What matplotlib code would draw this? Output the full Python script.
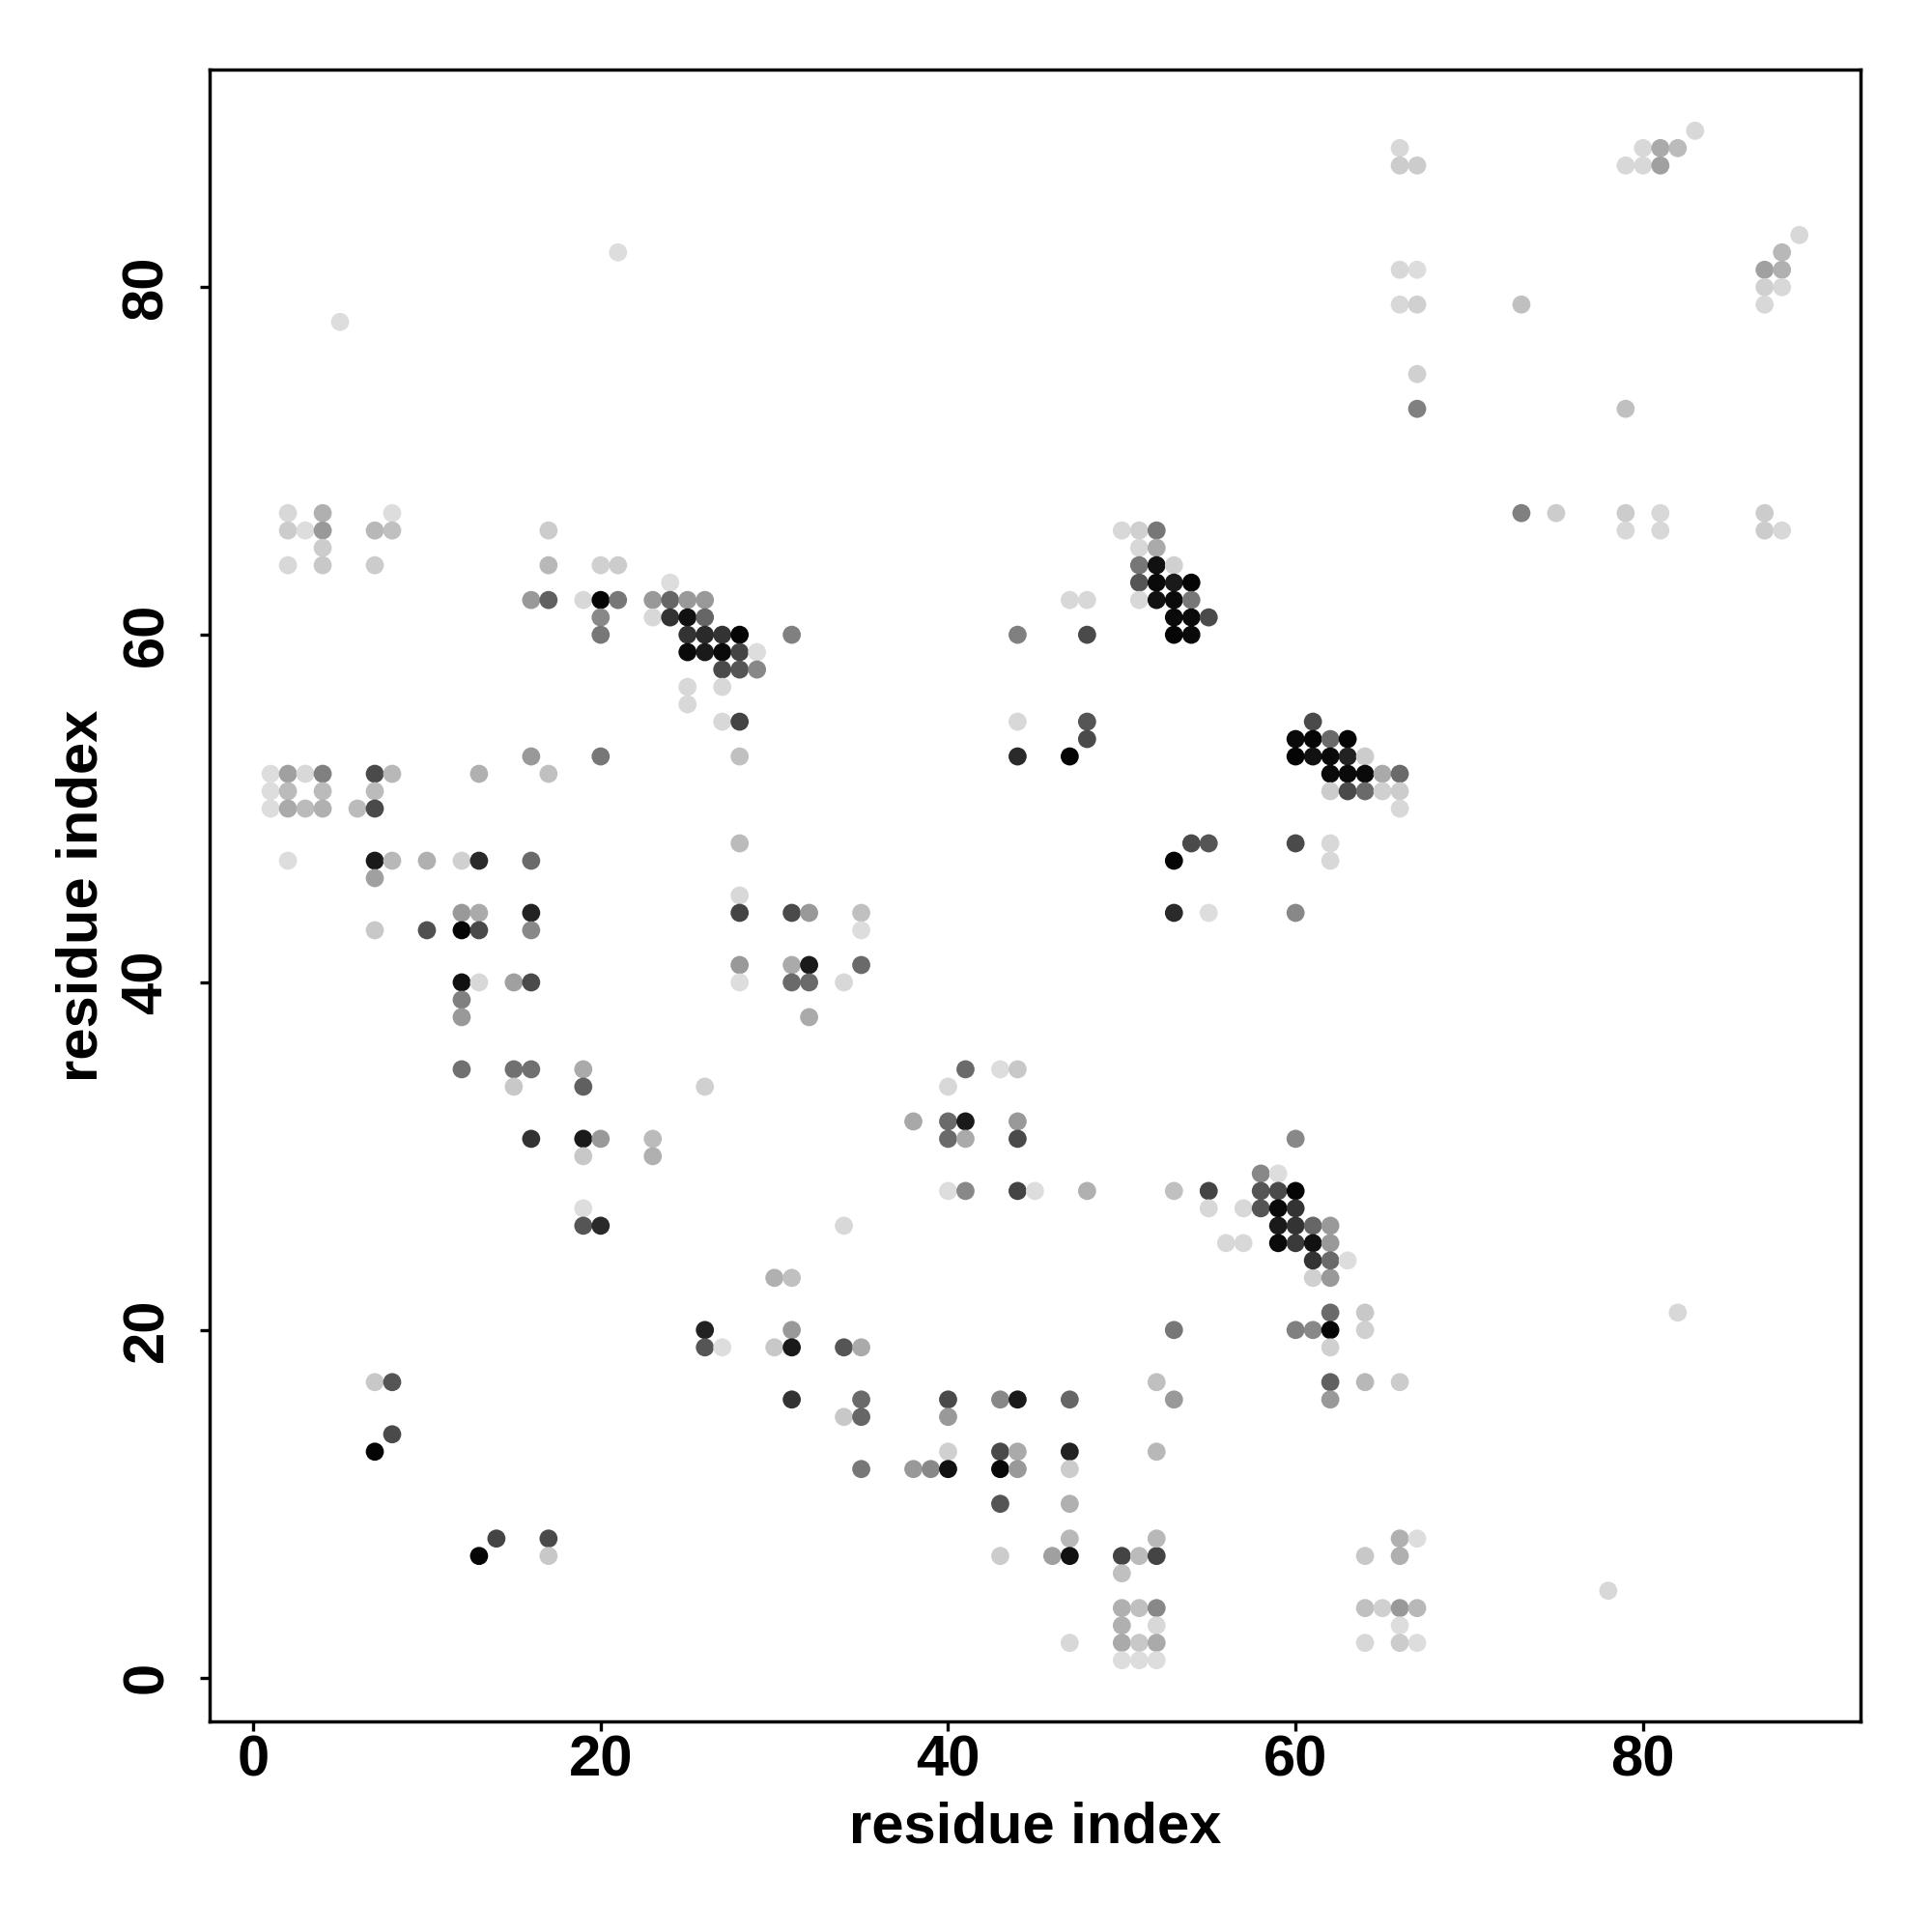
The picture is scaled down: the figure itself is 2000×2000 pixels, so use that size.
import matplotlib
matplotlib.use("Agg")
import matplotlib.pyplot as plt

# Contact map: residue i (x), residue j (y), grey level (0 = black, 255 = white)
res_x = [
    7, 8, 8, 7, 14, 13, 17, 17, 26, 26, 27,
    30, 31, 31, 30, 31, 34, 35, 31, 35, 34, 35, 40, 40, 43, 44, 47, 52, 53, 53, 60, 61,
    40, 35, 38, 39, 40, 43, 44, 43, 44, 47, 47, 52, 43, 47, 47, 46, 47, 43, 50, 51, 52, 52,
    50, 50, 51, 52, 50, 52, 50, 51, 52, 47, 50, 51, 52,
    61, 62, 62, 62, 62, 64, 64, 62, 62, 64, 66, 82, 64, 66, 67, 66, 78, 64, 65, 66, 67, 66,
    64, 66, 67,
    2, 7, 8, 10, 12, 13, 16, 7,
    12, 13, 16, 7, 10, 12, 13, 16, 28, 28,
    12, 13, 15, 16, 12, 12, 28, 28, 12, 15, 16, 15, 19, 19, 26, 16, 19, 20, 19, 23, 23,
    19, 19, 20,
    31, 32, 35, 35, 31, 32, 35, 31, 32, 34, 32, 53, 55, 60, 41, 43, 44, 40, 38, 40, 41, 44,
    40, 41, 44, 60, 40, 41, 44, 45, 48, 53, 55, 55, 57, 58, 59, 58, 59, 60, 58, 59, 60, 59,
    60, 61, 56, 57, 59, 60, 61, 61, 34,
    62, 62, 62, 63,
    2, 4, 8, 2, 3, 4, 7, 8, 4, 2, 4, 7, 17, 17, 20, 21, 24, 16, 17, 19, 20, 21, 23, 24, 25,
    26, 20, 20, 23, 24, 25, 26, 25, 26, 27, 28, 31, 25, 26, 27, 28, 29, 27, 28, 29, 25, 27,
    25, 27, 28, 28, 16, 20, 17, 1, 2, 3, 4, 7, 8, 13, 1, 2, 4, 7, 1, 2, 3, 4, 6, 7, 28,
    50, 51, 52, 51, 52, 51, 52, 53, 51, 52, 53, 54, 51, 52, 53, 54, 53, 54, 55, 53, 54, 47,
    48, 44, 48, 44, 48, 48, 44, 47, 54, 55, 53, 60, 61, 60, 61, 60, 61,
    73, 75, 79, 81, 79, 81, 87, 87, 88, 62, 63, 62, 63, 64, 62, 63, 64, 65, 66, 62, 63, 64,
    65, 66, 66, 62, 62,
    66, 66, 67, 83, 80, 81, 82, 79, 80, 81, 89, 88, 87, 88, 87, 88, 87, 66, 67, 66, 67, 73,
    67, 67, 79,
    5, 21,
]
res_y = [
    17, 17, 14, 13, 8, 7, 8, 7, 20, 19, 19,
    23, 23, 20, 19, 19, 19, 19, 16, 16, 15, 15, 16, 15, 16, 16, 16, 17, 16, 20, 20, 20,
    13, 12, 12, 12, 12, 13, 13, 12, 12, 13, 12, 13, 10, 10, 8, 7, 7, 7, 7, 7, 7, 8,
    6, 4, 4, 4, 3, 3, 2, 2, 2, 2, 1, 1, 1,
    23, 23, 21, 20, 19, 21, 20, 17, 16, 17, 17, 21, 7, 8, 8, 7, 5, 4, 4, 4, 4, 3,
    2, 2, 2,
    47, 47, 47, 47, 47, 47, 47, 46,
    44, 44, 44, 43, 43, 43, 43, 43, 45, 44,
    40, 40, 40, 40, 39, 38, 41, 40, 35, 35, 35, 34, 35, 34, 34, 31, 31, 31, 30, 31, 30,
    27, 26, 26,
    44, 44, 44, 43, 41, 41, 41, 40, 40, 40, 38, 44, 44, 44, 35, 35, 35, 34, 32, 32, 32, 32,
    31, 31, 31, 31, 28, 28, 28, 28, 28, 28, 28, 27, 27, 29, 29, 28, 28, 28, 27, 27, 27, 26,
    26, 26, 25, 25, 25, 25, 25, 24, 26,
    26, 25, 24, 24,
    67, 67, 67, 66, 66, 66, 66, 66, 65, 64, 64, 64, 66, 64, 64, 64, 63, 62, 62, 62, 62, 62,
    62, 62, 62, 62, 61, 60, 61, 61, 61, 61, 60, 60, 60, 60, 60, 59, 59, 59, 59, 59, 58, 58,
    58, 57, 57, 56, 55, 55, 53, 53, 53, 52, 52, 52, 52, 52, 52, 52, 52, 51, 51, 51, 51, 50,
    50, 50, 50, 50, 50, 48,
    66, 66, 66, 65, 65, 64, 64, 64, 63, 63, 63, 63, 62, 62, 62, 62, 61, 61, 61, 60, 60, 62,
    62, 60, 60, 55, 55, 54, 53, 53, 48, 48, 47, 48, 55, 54, 54, 53, 53,
    67, 67, 67, 67, 66, 66, 67, 66, 66, 54, 54, 53, 53, 53, 52, 52, 52, 52, 52, 51, 51, 51,
    51, 51, 50, 48, 47,
    88, 87, 87, 89, 88, 88, 88, 87, 87, 87, 83, 82, 81, 81, 80, 80, 79, 81, 81, 79, 79, 79,
    75, 73, 73,
    78, 82,
]
shade = [
    0xc8, 0x55, 0x4a, 0x05, 0x44, 0x05, 0x4a, 0xc8, 0x22, 0x55, 0xdd,
    0xb0, 0xc0, 0x99, 0xc8, 0x1a, 0x55, 0xaa, 0x33, 0x6a, 0xc8, 0x66, 0x4a, 0x99, 0x88, 0x1a,
    0x66, 0xc0, 0x99, 0x77, 0x80, 0x88,
    0xd0, 0x77, 0x99, 0x88, 0x11, 0x4a, 0xaa, 0x08, 0x99, 0x22, 0xcc, 0xb8, 0x55, 0xb0, 0xb8,
    0xa0, 0x11, 0xcc, 0x44, 0xbb, 0x44, 0xb8,
    0xc0, 0xb0, 0xc0, 0x88, 0xb0, 0xd8, 0xaa, 0xc8, 0xaa, 0xd8, 0xdd, 0xdd, 0xdd,
    0xd0, 0x99, 0x6a, 0x05, 0xd0, 0xc8, 0xd0, 0x60, 0x99, 0xb8, 0xcc, 0xd8, 0xc8, 0xb0, 0xdd,
    0xb0, 0xd8, 0xc0, 0xd0, 0x99, 0xb8, 0xdd,
    0xd8, 0xcc, 0xdd,
    0xdd, 0x1a, 0xb8, 0xb0, 0xd0, 0x2a, 0x6a, 0xa0,
    0x99, 0xaa, 0x22, 0xc8, 0x50, 0x05, 0x4a, 0x88, 0xd8, 0x44,
    0x11, 0xd8, 0xa0, 0x4a, 0x80, 0x99, 0x99, 0xdd, 0x70, 0x70, 0x70, 0xc8, 0xaa, 0x60, 0xd0,
    0x33, 0x1a, 0x99, 0xc8, 0xbb, 0xb0,
    0xdd, 0x55, 0x2a,
    0x4a, 0x99, 0xc0, 0xdd, 0xaa, 0x1a, 0x6a, 0x6a, 0x6a, 0xd8, 0xaa, 0x2a, 0xdd, 0x88, 0x6a,
    0xdd, 0xc8, 0xd8, 0xa8, 0x6a, 0x1a, 0x99,
    0x6a, 0xaa, 0x4a, 0x88, 0xdd, 0x88, 0x44, 0xdd, 0xb0, 0xc0, 0x44, 0xd8, 0xd8, 0x88, 0xdd,
    0x55, 0x4a, 0x05, 0x55, 0x0a, 0x33, 0x1a,
    0x33, 0x66, 0xd8, 0xd8, 0x0a, 0x3a, 0x11, 0x33, 0xd8,
    0x99, 0x99, 0x6a, 0xdd,
    0xd8, 0xb0, 0xdd, 0xcc, 0xdd, 0x99, 0xb8, 0xc0, 0xcc, 0xd8, 0xc8, 0xcc, 0xcc, 0xb8, 0xd0,
    0xcc, 0xdd, 0x99, 0x60, 0xd8, 0x05, 0x77, 0x99, 0x66, 0x99,
    0x99, 0x88, 0x77, 0xd8, 0x33, 0x11, 0x66, 0x33, 0x2a, 0x33, 0x05, 0x80, 0x0a, 0x1a, 0x0a,
    0x44, 0xdd, 0x4a, 0x55, 0x88, 0xd8, 0xd8,
    0xd8, 0xd8, 0x44, 0xc0, 0x99, 0x77, 0xc0, 0xdd, 0xa0, 0xd8, 0x80, 0x4a, 0xb8, 0xb0, 0xdd,
    0xbb, 0xbb, 0xbb, 0xdd, 0xaa, 0xbb, 0xb0, 0xbb, 0x4a, 0xbb,
    0xd8, 0xd0, 0x77, 0xd8, 0xaa, 0x77, 0x11, 0xd0, 0x55, 0x0a, 0x1a, 0x05, 0xd8, 0x11, 0x0a,
    0x77, 0x0a, 0x0a, 0x4a, 0x05, 0x0a, 0xd8,
    0xd8, 0x80, 0x4a, 0xd8, 0x55, 0x4a, 0x2a, 0x05, 0x4a, 0x55, 0x05, 0x4a, 0x4a, 0x0a, 0x05,
    0x05, 0x11,
    0x80, 0xcc, 0xcc, 0xd8, 0xd8, 0xd8, 0xcc, 0xcc, 0xd8, 0x6a, 0x05, 0x0a, 0x22, 0xcc, 0x0a,
    0x0a, 0x0a, 0xaa, 0x6a, 0xcc, 0x4a, 0x6a,
    0xd0, 0xcc, 0xd8, 0xd8, 0xd8,
    0xd8, 0xcc, 0xcc, 0xd8, 0xd8, 0xaa, 0xbb, 0xd8, 0xd8, 0xa0, 0xd8, 0xb8, 0xa0, 0xb0, 0xd0,
    0xd8, 0xd8, 0xd8, 0xdd, 0xd8, 0xd0, 0xc0,
    0xd0, 0x80, 0xc0,
    0xdd, 0xdd,
]

x_ticks = [0, 20, 40, 60, 80]
y_ticks = [0, 20, 40, 60, 80]
x_label = "residue index"
y_label = "residue index"

n = min(len(res_x), len(res_y), len(shade))
colors = [(g / 255.0, g / 255.0, g / 255.0) for g in shade[:n]]

plt.rcParams['font.family'] = ['Liberation Sans', 'DejaVu Sans']
fig = plt.figure(figsize=(20, 20), dpi=100)
ax = fig.add_axes([0.1084, 0.109, 0.8546, 0.855])

ax.scatter(res_x[:n], res_y[:n], c=colors, s=182, linewidths=0, marker='o')

lo = min(min(res_x), min(res_y))
hi = max(max(res_x), max(res_y))
pad = 0.04 * (hi - lo)
ax.set_xlim(lo - pad, hi + pad)
ax.set_ylim(lo - pad, hi + pad)

ax.set_xticks(x_ticks)
ax.set_yticks(y_ticks)
ax.set_xticklabels([str(t) for t in x_ticks], fontsize=43, fontweight='bold')
ax.set_yticklabels([str(t) for t in y_ticks], fontsize=43, fontweight='bold',
                   rotation=90, va='center')
ax.tick_params(axis='both', direction='out', length=7, width=2.4)
ax.tick_params(axis='x', pad=3)
ax.tick_params(axis='y', pad=19.5)
for sp in ax.spines.values():
    sp.set_linewidth(2.5)
    sp.set_color('black')

ax.set_xlabel(x_label, fontsize=43, fontweight='bold', labelpad=9.5)
ax.set_ylabel(y_label, fontsize=43, fontweight='bold', labelpad=9)

fig.savefig("out.png", dpi=100, facecolor='white')
